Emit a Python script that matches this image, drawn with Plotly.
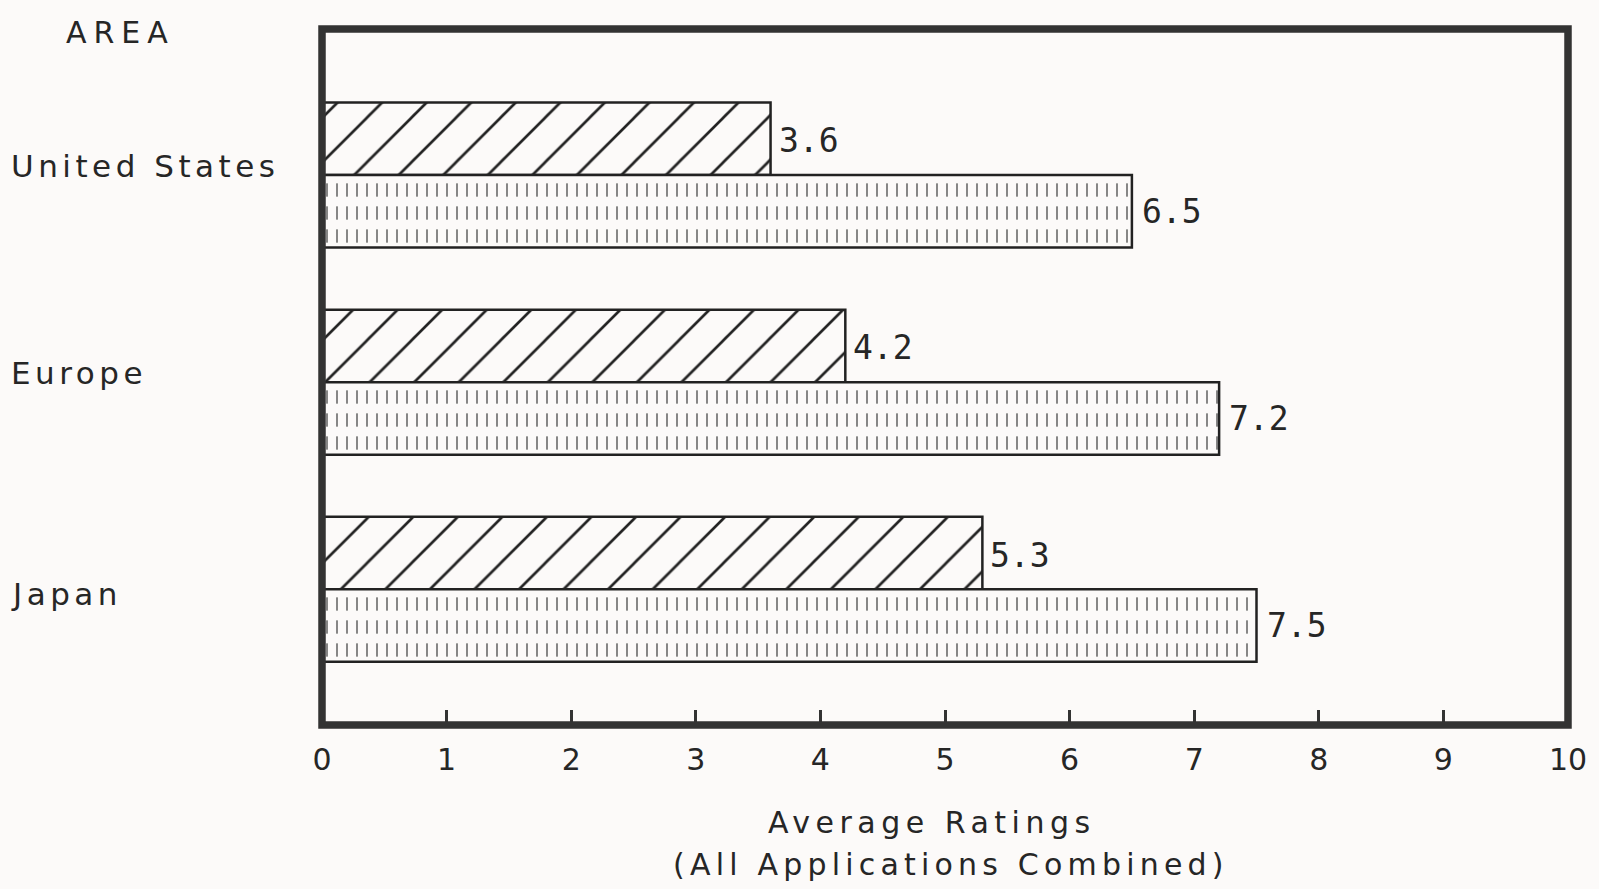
import plotly.graph_objects as go

# Average ratings by area (all applications combined)
areas = ["United States", "Europe", "Japan"]
rating_hatched = [3.6, 4.2, 5.3]
rating_stippled = [6.5, 7.2, 7.5]
x_ticks = [0, 1, 2, 3, 4, 5, 6, 7, 8, 9, 10]

PAPER = "#fcfaf9"
INK = "#262626"
EDGE = "#222222"
SANS = "DejaVu Sans"
MONO = "DejaVu Sans Mono"

# plot-area geometry (pixels)
W, H = 1599, 889
M_L, M_R, M_T, M_B = 322, 27, 29, 164
Y_RANGE = [2.655, -0.705]
plot_w = W - M_L - M_R
plot_h = H - M_T - M_B
cat_px = plot_h / (Y_RANGE[0] - Y_RANGE[1])

BAR_W = 0.35

# vertical nudge of each area name (pixels, up is positive)
name_shift = {"United States": 9, "Europe": 9, "Japan": -5}


def spaced(text, px):
    return f'<span style="letter-spacing:{px}px">{text}</span>'


fig = go.Figure()

# upper bar of each pair: diagonal hatching
fig.add_trace(go.Bar(
    y=areas, x=rating_hatched, orientation="h",
    offset=-BAR_W, width=BAR_W,
    marker=dict(
        color=PAPER,
        pattern=dict(shape="/", size=31.5, solidity=0.085, fgcolor=EDGE,
                     bgcolor=PAPER, fillmode="replace"),
        line=dict(color=EDGE, width=2.5),
    ),
    showlegend=False, hoverinfo="skip",
))

# lower bar of each pair: thin vertical strokes ...
fig.add_trace(go.Bar(
    y=areas, x=rating_stippled, orientation="h",
    offset=0, width=BAR_W,
    marker=dict(
        color=PAPER,
        pattern=dict(shape="|", size=10, solidity=0.14, fgcolor="#555555",
                     bgcolor=PAPER, fillmode="replace"),
        line=dict(width=0),
    ),
    showlegend=False, hoverinfo="skip",
))
# ... broken into short dashes, with the bar outline on top
fig.add_trace(go.Bar(
    y=areas, x=rating_stippled, orientation="h",
    offset=0, width=BAR_W,
    marker=dict(
        color=PAPER,
        pattern=dict(shape="-", size=23, solidity=0.42, fgcolor=PAPER,
                     bgcolor="rgba(0,0,0,0)", fillmode="replace"),
        line=dict(color=EDGE, width=2.5),
    ),
    showlegend=False, hoverinfo="skip",
))

annotations = []
# value labels at the end of each bar
half = BAR_W / 2 * cat_px
for area, v in zip(areas, rating_hatched):
    annotations.append(dict(x=v, y=area, xref="x", yref="y", text=f"{v:.1f}",
                            showarrow=False, xanchor="left", yanchor="middle",
                            xshift=6, yshift=half - 2,
                            font=dict(family=MONO, size=33, color=INK)))
for area, v in zip(areas, rating_stippled):
    annotations.append(dict(x=v, y=area, xref="x", yref="y", text=f"{v:.1f}",
                            showarrow=False, xanchor="left", yanchor="middle",
                            xshift=8, yshift=-half,
                            font=dict(family=MONO, size=33, color=INK)))

# area names, left aligned
for area in areas:
    annotations.append(dict(x=(8 - M_L) / plot_w, y=area,
                            xref="paper", yref="y", text=spaced(area, 4.5),
                            showarrow=False, xanchor="left", yanchor="middle",
                            yshift=name_shift[area],
                            font=dict(family=SANS, size=31, color=INK)))

# column heading
annotations.append(dict(x=(120 - M_L) / plot_w, y=(plot_h - 3.5) / plot_h,
                        xref="paper", yref="paper", text=spaced("AREA", 7),
                        showarrow=False, xanchor="center", yanchor="middle",
                        font=dict(family=SANS, size=30, color=INK)))

# axis title, two lines
annotations.append(dict(x=(934 - M_L) / plot_w, y=-97 / plot_h,
                        xref="paper", yref="paper",
                        text=spaced("Average Ratings", 5.5),
                        showarrow=False, xanchor="center", yanchor="middle",
                        font=dict(family=SANS, size=30, color=INK)))
annotations.append(dict(x=(953 - M_L) / plot_w, y=-139 / plot_h,
                        xref="paper", yref="paper",
                        text=spaced("(All Applications Combined)", 5.2),
                        showarrow=False, xanchor="center", yanchor="middle",
                        font=dict(family=SANS, size=30, color=INK)))

fig.update_layout(
    width=W, height=H,
    margin=dict(l=M_L, r=M_R, t=M_T, b=M_B, pad=0),
    paper_bgcolor=PAPER, plot_bgcolor=PAPER,
    barmode="overlay",
    annotations=annotations,
    shapes=[dict(type="rect", xref="paper", yref="paper", x0=0, x1=1, y0=0, y1=1,
                 line=dict(color="#333333", width=7.5), layer="above")],
    xaxis=dict(range=[0, 10], tickvals=x_ticks, ticktext=[str(t) for t in x_ticks],
               ticks="inside", ticklen=15, tickwidth=2.5, tickcolor="#333333",
               showgrid=False, zeroline=False, showline=False,
               ticklabelstandoff=14,
               tickfont=dict(family=SANS, size=30, color=INK), fixedrange=True),
    yaxis=dict(type="category", categoryorder="array", categoryarray=areas,
               range=Y_RANGE, showticklabels=False, showgrid=False,
               zeroline=False, showline=False, ticks="", fixedrange=True),
)

fig.write_html("out.html")
